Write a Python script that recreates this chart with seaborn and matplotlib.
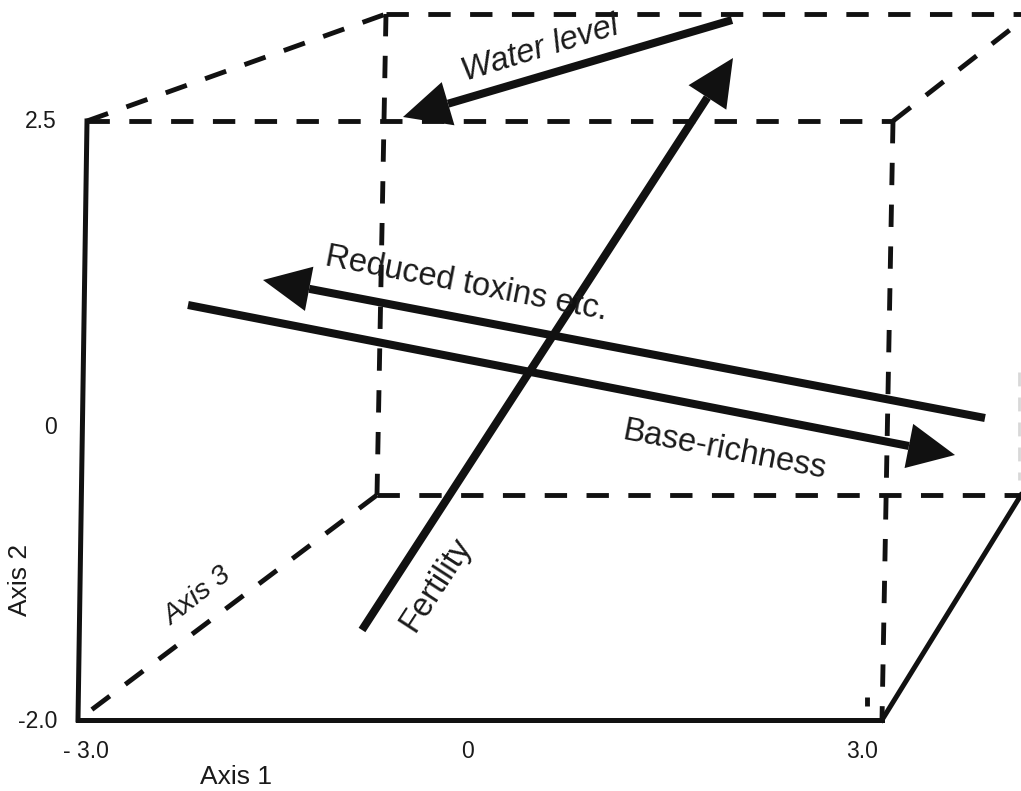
import numpy as np
import matplotlib
matplotlib.use("Agg")
import matplotlib.pyplot as plt
import seaborn as sns

# Box corners in drawing units (x to the right, y downwards)
front_bl = (78, 720)
front_tl = (87, 121)
front_tr = (893, 121)
front_br = (882, 720)
back_tl = (386, 14)
back_bl = (377, 495)
right_edge = 1021

# Solid box edges
solid_edges = [
    [front_bl, front_tl],
    [front_bl, front_br],
    [front_br, (right_edge, 495)],
]
# Dashed (hidden) box edges
dashed_edges = [
    [front_tl, front_tr],
    [front_tr, front_br],
    [front_tl, back_tl],
    [back_tl, (right_edge, 14)],
    [back_tl, back_bl],
    [back_bl, (right_edge, 495)],
    [back_bl, front_bl],
    [front_tr, (1020, 22)],
    [(867, 697), (867, 706)],
]
faint_edges = [
    [(1019, 372), (1019, 480)],
]

# Environmental gradient vectors: (start, tip)
arrow_names = ["Water level", "Fertility", "Reduced toxins etc.", "Base-richness"]
arrow_start = [(732, 20), (362, 630), (985, 418), (188, 305)]
arrow_tip = [(403, 117), (733, 58), (263, 280), (955, 455)]

# Gradient labels: text, centre, rotation, italic
label_text = ["Water level", "Reduced toxins etc.", "Base-richness", "Fertility", "Axis 3"]
label_pos = [(540, 49), (466, 284), (724, 450), (436, 585), (198, 597)]
label_rot = [17, -11, -11, 57, 38]
label_italic = [True, False, False, False, True]
label_size = [23.5, 23.5, 23.5, 23.5, 20.5]

# Tick labels
ytick_labels = ["2.5", "0", "-2.0"]
ytick_pos = [122, 428, 722]
xtick_labels = ["- 3.0", "0", "3.0"]
xtick_pos = [86, 467, 862]

sns.set_theme(style="white")
plt.rcParams["font.family"] = ["Liberation Sans", "DejaVu Sans"]

fig = plt.figure(figsize=(10.21, 7.91), dpi=100)
ax = fig.add_axes([0, 0, 1, 1])
ax.set_xlim(0, 1021)
ax.set_ylim(791, 0)
ax.set_axis_off()

dash = (0, (4.6, 4.0))
for (p, q) in solid_edges:
    sns.lineplot(x=[p[0], q[0]], y=[p[1], q[1]], sort=False, estimator=None,
                 color="#111111", lw=3.6, ax=ax, solid_capstyle="projecting")
for (p, q) in dashed_edges:
    sns.lineplot(x=[p[0], q[0]], y=[p[1], q[1]], sort=False, estimator=None,
                 color="#111111", lw=3.5, linestyle=dash, ax=ax,
                 dash_capstyle="butt")
for (p, q) in faint_edges:
    sns.lineplot(x=[p[0], q[0]], y=[p[1], q[1]], sort=False, estimator=None,
                 color="#d8d8d8", lw=2.0, linestyle=(0, (5, 4)), ax=ax)

head_len = 47
head_wid = 45
for s, t in zip(arrow_start, arrow_tip):
    s = np.array(s, float)
    t = np.array(t, float)
    d = (t - s) / np.linalg.norm(t - s)
    n = np.array([-d[1], d[0]])
    base = t - d * head_len
    sns.lineplot(x=[s[0], base[0]], y=[s[1], base[1]], sort=False, estimator=None,
                 color="#111111", lw=5.8, ax=ax, solid_capstyle="butt")
    tri = np.array([t, base + n * head_wid / 2, base - n * head_wid / 2])
    ax.fill(tri[:, 0], tri[:, 1], color="#111111", lw=0)

for txt, (x, y), rot, it, fs in zip(label_text, label_pos, label_rot, label_italic, label_size):
    ax.text(x, y, txt, rotation=rot, rotation_mode="anchor", ha="center", va="center",
            fontsize=fs, style="italic" if it else "normal", color="#1a1a1a")

for lab, y in zip(ytick_labels, ytick_pos):
    ax.text(57, y, lab, ha="right", va="center", fontsize=16.5, color="#1a1a1a")
for lab, x in zip(xtick_labels, xtick_pos):
    ax.text(x, 752, lab, ha="center", va="center", fontsize=16.5, color="#1a1a1a")

ax.text(236, 777, "Axis 1", ha="center", va="center", fontsize=19, color="#1a1a1a")
ax.text(20, 580, "Axis 2", ha="center", va="center", rotation=90, fontsize=19, color="#1a1a1a")

fig.savefig("out.png", dpi=100, facecolor="white")
